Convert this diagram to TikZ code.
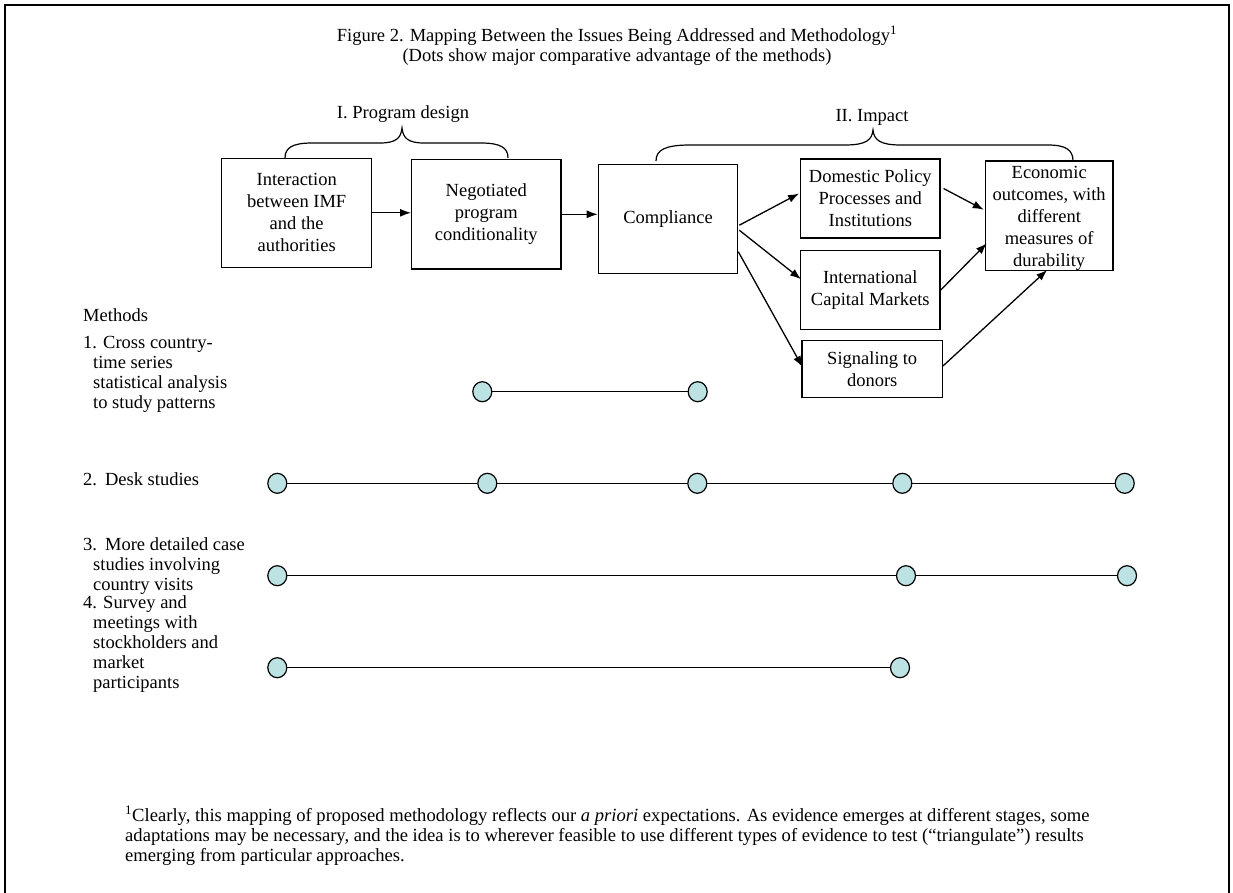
\documentclass[tikz,border=0pt]{standalone}
\usepackage{fontspec}
\setmainfont{Liberation Serif}
\usetikzlibrary{arrows.meta,shapes.geometric,calc}
\definecolor{dotfill}{RGB}{189,226,228}
\begin{document}
\begin{tikzpicture}[x=1pt,y=-1pt,
  box/.style={draw, line width=1.2pt, align=center, inner sep=0pt, font=\fontsize{18.5}{22}\selectfont},
  arr/.style={-{Latex[length=11pt,width=8pt]}, line width=1.3pt},
  dot/.style={ellipse, draw, line width=1.2pt, fill=dotfill, minimum width=19pt, minimum height=20pt, inner sep=0pt},
  link/.style={line width=1.2pt},
  mtxt/.style={anchor=base west, inner sep=0pt, font=\fontsize{18.5}{20}\selectfont},
  ttl/.style={anchor=base, inner sep=0pt, font=\fontsize{18.5}{20}\selectfont},
  foot/.style={anchor=base west, inner sep=0pt, font=\fontsize{18.6}{21}\selectfont},
  bracestyle/.style={line width=1.2pt}
]
\useasboundingbox (0,0) rectangle (1233,892);
\fill[white] (0,0) rectangle (1233,892);
% frame
\draw[line width=2.2pt] (5,893) -- (5,5) -- (1229,5) -- (1229,893);

% title
\node[ttl] (t1) at (617,41) {Figure 2. Mapping Between the Issues Being Addressed and Methodology\textsuperscript{1}};
\node[ttl] (t2) at (617,61) {(Dots show major comparative advantage of the methods)};

% group labels and braces
\node[ttl] (g1) at (403,118) {I. Program design};
\node[ttl] (g2) at (872,121) {II. Impact};
\draw[bracestyle] (285,158) .. controls (285,148) and (292,143) .. (312,143) -- (380,143)
  .. controls (396,143) and (401,138) .. (402,128)
  .. controls (403,138) and (408,143) .. (424,143) -- (481,143)
  .. controls (501,143) and (508,148) .. (508,158);
\draw[bracestyle] (656,161) .. controls (656,150) and (665,145) .. (690,145) -- (845,145)
  .. controls (866,145) and (872,140) .. (873,130)
  .. controls (874,140) and (880,145) .. (901,145) -- (1048,145)
  .. controls (1066,145) and (1073,150) .. (1073,161);

% boxes
\node[box, minimum width=150pt, minimum height=109pt] (b1) at (296.7,212.8) {Interaction\\between IMF\\and the\\authorities};
\node[box, minimum width=149.3pt, minimum height=109.3pt] (b2) at (486.3,214.3) {Negotiated\\program\\conditionality};
\node[box, minimum width=139.4pt, minimum height=109pt] (comp) at (668,219.2) {Compliance};
\node[box, minimum width=139.3pt, minimum height=79pt] (dom) at (870.3,198.5) {Domestic Policy\\Processes and\\Institutions};
\node[box, minimum width=139.3pt, minimum height=79pt] (intl) at (870.3,290.2) {International\\Capital Markets};
\node[box, minimum width=140.3pt, minimum height=56.6pt] (sig) at (872.2,369) {Signaling to\\donors};
\node[box, minimum width=127.7pt, minimum height=109.3pt] (econ) at (1049.2,215.7) {};
\node[align=center, inner sep=0pt, font=\fontsize{18.5}{22}\selectfont] (econtxt) at ($(econ.center)+(0,3)$) {Economic\\outcomes, with\\different\\measures of\\durability};

% arrows
\draw[arr] (b1.east) -- (b1.east -| b2.west);
\draw[arr] (b2.east) -- (b2.east -| comp.west);
\draw[arr] ($(comp.east)+(1,6)$) -- ($(dom.west)+(-1,-5)$);
\draw[arr] ($(comp.east)+(1,11)$) -- ($(intl.west)+(1,-11)$);
\draw[arr] ($(comp.east)+(0,32.5)$) -- ($(sig.west)+(1,-2)$);
\draw[arr] ($(dom.east)+(3,-10)$) -- ($(econ.west)+(-1,-6)$);
\draw[arr] (intl.east) -- ($(econ.west)+(2,27.6)$);
\draw[arr] ($(sig.east)+(0,-3)$) -- ($(econ.south)+(-2,-1)$);

% methods text
\node[mtxt] (mh) at (83,321) {Methods};
\node[mtxt] (m1a) at (83,348) {1. Cross country-};
\node[mtxt] (m1b) at (93,368) {time series};
\node[mtxt] (m1c) at (93,388) {statistical analysis};
\node[mtxt] (m1d) at (93,408) {to study patterns};
\node[mtxt] (m2a) at (83,485) {2.\hspace{8pt}Desk studies};
\node[mtxt] (m3a) at (83,550) {3.\hspace{8pt}More detailed case};
\node[mtxt] (m3b) at (93,570) {studies involving};
\node[mtxt] (m3c) at (93,590) {country visits};
\node[mtxt] (m4a) at (83,608) {4. Survey and};
\node[mtxt] (m4b) at (93,628) {meetings with};
\node[mtxt] (m4c) at (93,648) {stockholders and};
\node[mtxt] (m4d) at (93,668) {market};
\node[mtxt] (m4e) at (93,688) {participants};

% dots
\node[dot] (d11) at (482.3,391.7) {};
\node[dot] (d12) at (697.7,391.7) {};
\node[dot] (d21) at (277.3,483.3) {};
\node[dot] (d22) at (487.3,483.3) {};
\node[dot] (d23) at (697.3,483.3) {};
\node[dot] (d24) at (902.3,483.3) {};
\node[dot] (d25) at (1124.7,483.3) {};
\node[dot] (d31) at (277.3,575.7) {};
\node[dot] (d32) at (906,575.7) {};
\node[dot] (d33) at (1127,575.7) {};
\node[dot] (d41) at (277.3,667.7) {};
\node[dot] (d42) at (900,667.7) {};
\draw[link] (d11) -- (d12);
\draw[link] (d21) -- (d22);
\draw[link] (d22) -- (d23);
\draw[link] (d23) -- (d24);
\draw[link] (d24) -- (d25);
\draw[link] (d31) -- (d32);
\draw[link] (d32) -- (d33);
\draw[link] (d41) -- (d42);

% footnote
\node[foot] (f1) at (125,821) {\textsuperscript{1}Clearly, this mapping of proposed methodology reflects our \textit{a priori} expectations. As evidence emerges at different stages, some};
\node[foot] (f2) at (125,841) {adaptations may be necessary, and the idea is to wherever feasible to use different types of evidence to test (``triangulate'') results};
\node[foot] (f3) at (125,861) {emerging from particular approaches.};
\end{tikzpicture}
\end{document}
